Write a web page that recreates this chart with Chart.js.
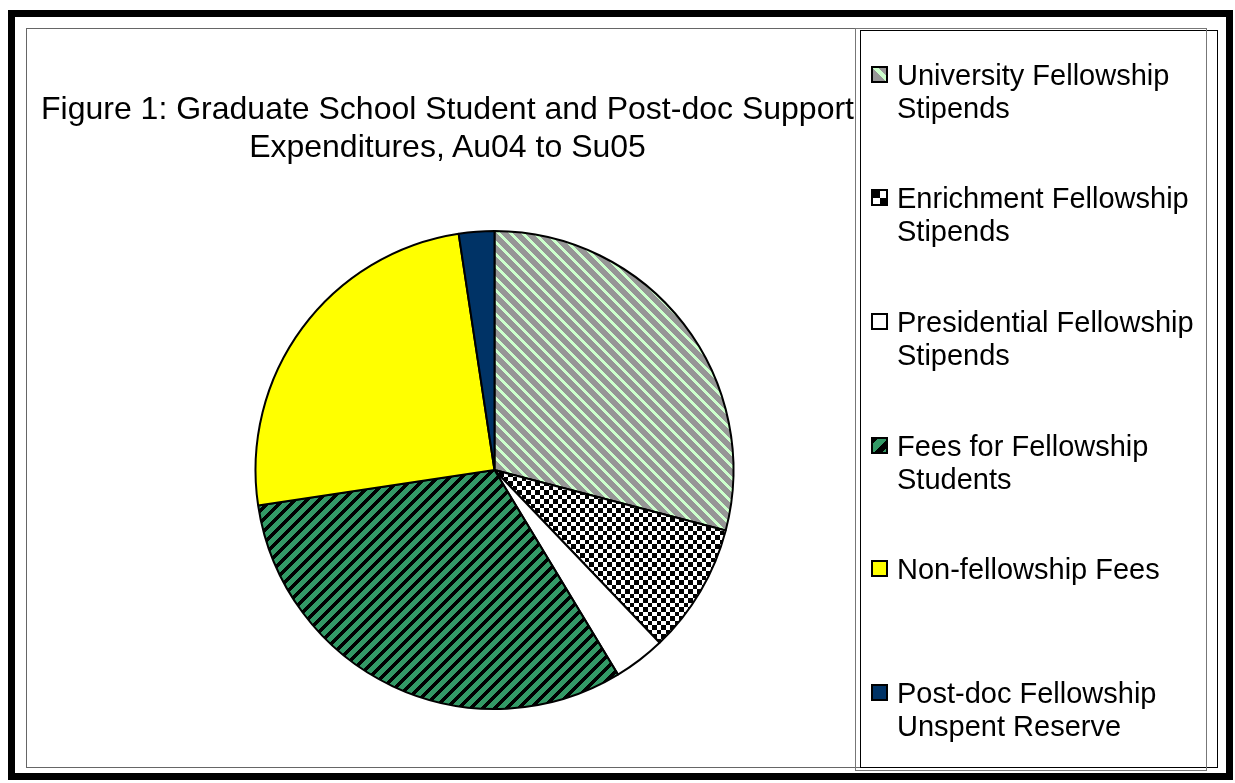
<!DOCTYPE html>
<html>
<head>
<meta charset="utf-8">
<script src="https://cdn.jsdelivr.net/npm/chart.js@4.4.1/dist/chart.umd.min.js"></script>
<style>
  html, body { margin: 0; padding: 0; background: #fff; }
  body { width: 1235px; height: 783px; position: relative; overflow: hidden;
         font-family: "Liberation Sans", Arial, sans-serif; color: #000; }
  #chart { position: absolute; left: 0; top: 0; }
  .box { position: absolute; box-sizing: border-box; }
  #outer { left: 8px; top: 10px; width: 1225px; height: 770px; border: 7px solid #000; }
  #plot { left: 26px; top: 28px; width: 1181px; height: 740px; border: 1px solid #666; }
  #legShadow { left: 860px; top: 30px; width: 358px; height: 738px; border: 1px solid #000; }
  #legBox { left: 855px; top: 28px; width: 352px; height: 743px; border: 1px solid #777; }
  #title { position: absolute; left: 0; width: 895px; top: 89px; text-align: center;
           font-size: 32px; line-height: 38px; white-space: nowrap; }
  .item { position: absolute; left: 871px; display: flex; align-items: flex-start; }
  .item canvas { display: block; margin-top: 7px; margin-right: 9px; }
  .item span { font-size: 29px; line-height: 33px; width: 312px; }
</style>
</head>
<body>
<canvas id="chart" width="1235" height="783"></canvas>
<div class="box" id="outer"></div>
<div class="box" id="plot"></div>
<div class="box" id="legShadow"></div>
<div class="box" id="legBox"></div>
<div id="title"></div>
<div id="legend"></div>
<script>
const titleLines = ['Figure 1: Graduate School Student and Post-doc Support', 'Expenditures, Au04 to Su05'];
const categories = [
  'University Fellowship Stipends',
  'Enrichment Fellowship Stipends',
  'Presidential Fellowship Stipends',
  'Fees for Fellowship Students',
  'Non-fellowship Fees',
  'Post-doc Fellowship Unspent Reserve'
];
// share of expenditures, percent
const shares = [29.1, 8.8, 3.5, 31.3, 25.0, 2.4];
const fills = ['stripeDown', 'checker', 'white', 'stripeUp', 'yellow', 'navy'];

document.getElementById('title').innerHTML = titleLines.join('<br>');

// build the fill patterns the slices use
function makeTile(kind, scale) {
  const g = document.createElement('canvas').getContext('2d');
  let n;
  if (kind === 'stripeDown') {
    n = 12 * scale;
    g.canvas.width = n; g.canvas.height = n;
    g.fillStyle = '#969696'; g.fillRect(0, 0, n, n);
    g.fillStyle = '#ccffcc';
    for (let y = 0; y < n; y++) for (let x = 0; x < n; x++) {
      if (((x - y) % n + n) % n < 4 * scale) g.fillRect(x, y, 1, 1);
    }
  } else if (kind === 'stripeUp') {
    n = 12 * scale;
    g.canvas.width = n; g.canvas.height = n;
    g.fillStyle = '#339966'; g.fillRect(0, 0, n, n);
    g.fillStyle = '#000';
    for (let y = 0; y < n; y++) for (let x = 0; x < n; x++) {
      if ((x + y) % n < 5 * scale) g.fillRect(x, y, 1, 1);
    }
  } else if (kind === 'checker') {
    n = 9 * scale;
    g.canvas.width = n; g.canvas.height = n;
    const h = Math.floor(n / 2);
    g.fillStyle = '#fff'; g.fillRect(0, 0, n, n);
    g.fillStyle = '#000';
    g.fillRect(0, 0, h, h);
    g.fillRect(h, h, n - h, n - h);
  } else {
    n = 8;
    g.canvas.width = n; g.canvas.height = n;
    g.fillStyle = { white: '#ffffff', yellow: '#ffff00', navy: '#003366' }[kind];
    g.fillRect(0, 0, n, n);
  }
  return g.canvas;
}

const ctx = document.getElementById('chart').getContext('2d');
const patterns = fills.map(k => ctx.createPattern(makeTile(k, 1), 'repeat'));

new Chart(ctx, {
  type: 'pie',
  data: {
    labels: categories,
    datasets: [{
      data: shares,
      backgroundColor: patterns,
      borderColor: '#000',
      borderWidth: 2
    }]
  },
  options: {
    responsive: false,
    animation: false,
    events: [],
    radius: 239,
    layout: { padding: { left: 250, right: 496, top: 225, bottom: 68 } },
    plugins: {
      legend: { display: false },
      tooltip: { enabled: false },
      title: { display: false }
    }
  }
});

// legend, one entry per category
const legendTops = [59, 182, 306, 430, 553, 677];
const legend = document.getElementById('legend');
categories.forEach((name, i) => {
  const item = document.createElement('div');
  item.className = 'item';
  item.style.top = legendTops[i] + 'px';
  const m = document.createElement('canvas');
  m.width = 17; m.height = 17;
  const mg = m.getContext('2d');
  const tile = fills[i] === 'checker' ? makeTile('checker', 2) : makeTile(fills[i], 1.5);
  mg.fillStyle = mg.createPattern(tile, 'repeat');
  mg.fillRect(0, 0, 17, 17);
  mg.strokeStyle = '#000'; mg.lineWidth = 2;
  mg.strokeRect(1, 1, 15, 15);
  const t = document.createElement('span');
  t.textContent = name;
  item.appendChild(m);
  item.appendChild(t);
  legend.appendChild(item);
});
</script>
</body>
</html>
